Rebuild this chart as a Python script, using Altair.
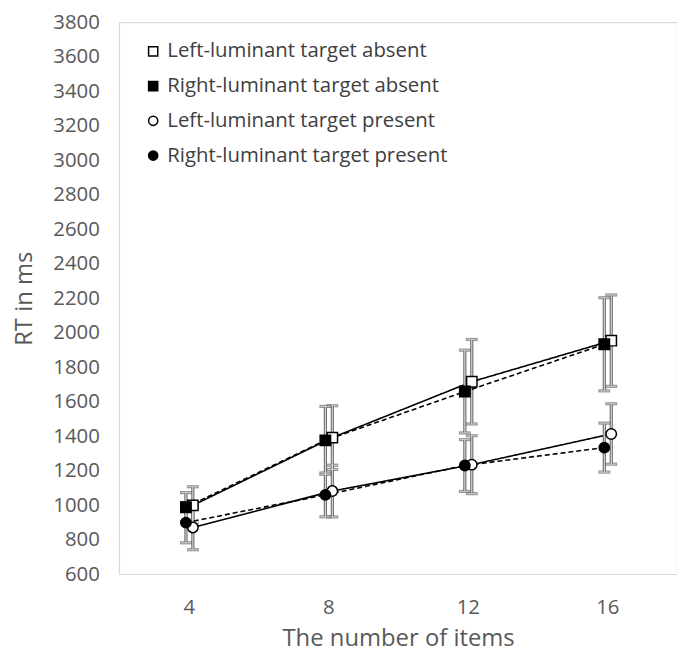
import altair as alt
import pandas as pd

items = [4, 8, 12, 16]
series_names = [
    "Left-luminant target absent",
    "Right-luminant target absent",
    "Left-luminant target present",
    "Right-luminant target present",
]
left_absent = [999, 1392, 1716, 1954]
left_absent_err = [108, 185, 245, 265]
right_absent = [988, 1376, 1659, 1933]
right_absent_err = [85, 197, 240, 270]
left_present = [871, 1082, 1235, 1413]
left_present_err = [129, 150, 168, 175]
right_present = [899, 1060, 1230, 1334]
right_present_err = [117, 127, 150, 142]
y_ticks = list(range(600, 3801, 200))

rows = []
for name, side, vals, errs in [
    (series_names[0], "Left", left_absent, left_absent_err),
    (series_names[1], "Right", right_absent, right_absent_err),
    (series_names[2], "Left", left_present, left_present_err),
    (series_names[3], "Right", right_present, right_present_err),
]:
    for it, v, e in zip(items, vals, errs):
        rows.append({"items": it, "series": name, "side": side, "rt": v,
                     "lo": v - e, "hi": v + e})
df = pd.DataFrame(rows)

FONT = "Open Sans"
X = alt.X("items:O", sort=items, scale=alt.Scale(type="point", padding=0.5),
          axis=alt.Axis(title="The number of items", labelAngle=0, labelPadding=24,
                        titlePadding=8, labelFontSize=20.5, titleFontSize=24,
                        labelColor="#595959", titleColor="#595959",
                        labelFont=FONT, titleFont=FONT, titleFontWeight="normal",
                        domain=False, ticks=False))
YAX = alt.Axis(values=y_ticks, format="d", labelPadding=20, titlePadding=16,
               labelFontSize=20.5, titleFontSize=24, labelColor="#595959",
               titleColor="#595959", labelFont=FONT, titleFont=FONT,
               titleFontWeight="normal", domain=False, ticks=False, grid=False)
YS = alt.Scale(domain=[600, 3800], nice=False, zero=False)


def Y(field):
    return alt.Y(f"{field}:Q", scale=YS, axis=YAX, title="RT in ms")


base = alt.Chart(df)
legend = alt.Legend(title=None, orient="none", legendX=24, legendY=19,
                    symbolStrokeColor="black", symbolStrokeWidth=1.5, symbolSize=85,
                    labelFont=FONT, labelFontSize=20.5, labelColor="#404040",
                    labelLimit=400, rowPadding=14, labelOffset=4, padding=0)
fill = alt.Fill("series:N", scale=alt.Scale(domain=series_names,
                range=["white", "black", "white", "black"]), legend=legend)
shape = alt.Shape("series:N", scale=alt.Scale(domain=series_names,
                  range=["square", "square", "circle", "circle"]), legend=legend)
stroke = alt.Stroke("series:N", scale=alt.Scale(domain=series_names,
                    range=["black", "black", "black", "black"]), legend=legend)

layers = []
for side, off, dash in [("Left", 4, [1, 0]), ("Right", -3, [5, 3])]:
    d = base.transform_filter(alt.datum.side == side)
    for col, w, size in [("#6a6a6a", 3.2, 12), ("#e6e6e6", 1.0, 10)]:
        layers.append(d.mark_rule(xOffset=off, color=col, strokeWidth=w)
                      .encode(x=X, y=Y("lo"), y2="hi:Q"))
        for f in ["lo", "hi"]:
            layers.append(d.mark_tick(xOffset=off, color=col, thickness=w,
                                      size=size, orient="horizontal")
                          .encode(x=X, y=Y(f)))
    layers.append(d.mark_line(xOffset=off, color="black", strokeWidth=1.6,
                              strokeDash=dash)
                  .encode(x=X, y=Y("rt"), detail="series:N"))
for side, off in [("Left", 4), ("Right", -3)]:
    d = base.transform_filter(alt.datum.side == side)
    layers.append(d.mark_point(xOffset=off, filled=True, strokeWidth=1.5,
                               size=110, opacity=1)
                  .encode(x=X, y=Y("rt"), fill=fill, shape=shape, stroke=stroke))

chart = alt.layer(*layers).properties(
    width=562, height=556,
    autosize=alt.AutoSizeParams(type="none"),
    padding={"left": 112, "top": 12, "right": 0, "bottom": 78},
).configure_view(stroke="#d9d9d9", strokeWidth=1.2)

chart.save("out.html", embed_options={"renderer": "svg", "actions": False})
